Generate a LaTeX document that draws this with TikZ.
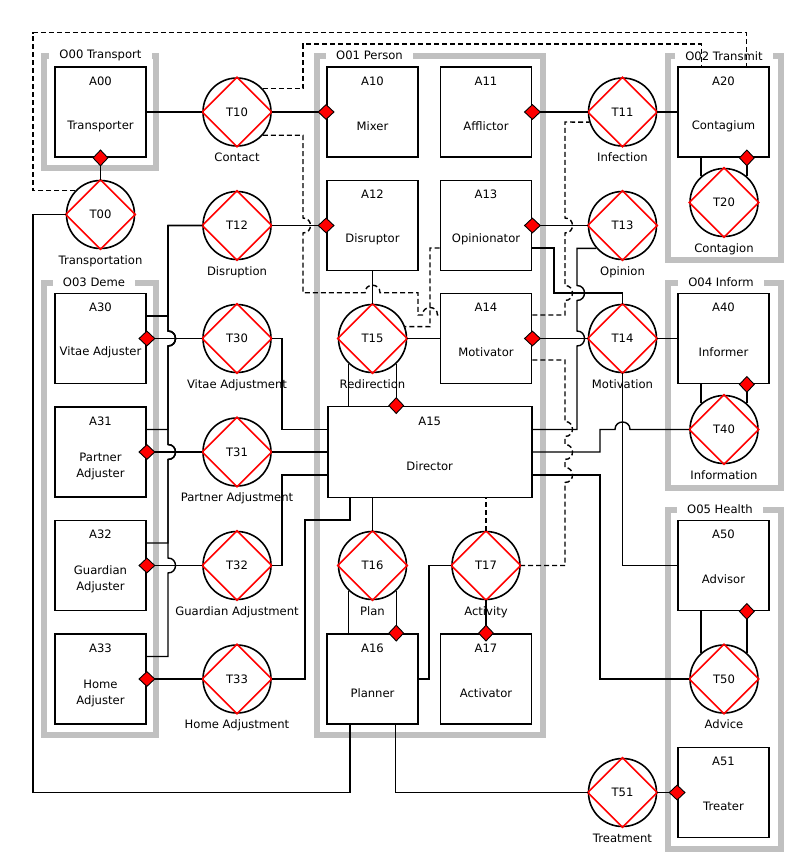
\documentclass[tikz,border=0pt]{standalone}
\usepackage{fontspec}
\setmainfont{DejaVu Sans}
\usepackage{tikz}
\usetikzlibrary{arrows.meta}
\definecolor{grigio}{HTML}{C0C0C0}

\begin{document}
\begin{tikzpicture}[x=1pt, y=-1pt,
        font=\fontsize{11.6}{16}\selectfont,
        actor/.style={draw, line width=1.8pt, minimum width=91pt, minimum height=90pt, inner sep=0pt},
        trans/.style={draw, circle, line width=1.6pt, minimum size=68pt, inner sep=0pt},
        org/.style={draw=grigio, line width=6pt},
        orgname/.style={fill=white, inner xsep=10pt, inner ysep=2pt},
        tname/.style={inner sep=0pt, text height=8.5pt, text depth=2.5pt, label distance=6pt},
        wire/.style={line width=1.4pt},
        flow/.style={wire, dash pattern=on 5pt off 3pt},
        own/.style={-{Diamond[length=17pt, width=16pt, fill=red, line width=0.9pt]}, shorten >=-8.5pt}
    ]
    \useasboundingbox (0,0) rectangle (794,862);

    % organizzazioni
    \draw[org] (44,55.7) rectangle (156,168);
    \draw[org] (317,55.7) rectangle (543,735);
    \draw[org] (668,55.7) rectangle (780.5,259.5);
    \draw[org] (44,282.5) rectangle (156,735);
    \draw[org] (668,282.5) rectangle (780.5,488);
    \draw[org] (668,509.5) rectangle (780.5,848.5);
    \node[orgname] (O00) at (100.5,55.7) {O00 Transport};
    \node[orgname] (O01) at (369.5,55.7) {O01 Person};
    \node[orgname] (O02) at (724,55.7) {O02 Transmit};
    \node[orgname] (O03) at (94,282.5) {O03 Deme};
    \node[orgname] (O04) at (721,282.5) {O04 Inform};
    \node[orgname] (O05) at (720,509.5) {O05 Health};

    % attori
    \foreach \n/\x/\y/\t in {A00/100.5/112/Transporter, A10/372.5/112/Mixer,
            A11/486/112/Afflictor, A20/723.5/112/Contagium,
            A12/372.5/225.5/Disruptor, A13/486/225.5/Opinionator,
            A14/486/338.5/Motivator, A30/100.5/338.5/Vitae Adjuster,
            A31/100.5/452/Partner\\Adjuster, A32/100.5/565.5/Guardian\\Adjuster,
            A33/100.5/679/Home\\Adjuster, A40/723.5/338.5/Informer,
            A50/723.5/565.5/Advisor, A16/372.5/679/Planner,
            A17/486/679/Activator, A51/723.5/792.5/Treater}
        \node[actor, label={[anchor=center, yshift=-15pt]90:\n},
            label={[anchor=center, yshift=-60pt, align=center]90:\t}] (\n) at (\x,\y) {};
    \node[actor, minimum width=204pt, minimum height=91pt,
        label={[anchor=center, yshift=-15.5pt]90:A15},
        label={[anchor=center, yshift=-60.5pt]90:Director}] (A15) at (429.7,452) {};

    % transazioni
    \foreach \n/\x/\y/\t in {T00/100.5/214.5/Transportation, T10/237/112/Contact,
            T11/622.5/112/Infection, T12/237/225.5/Disruption,
            T13/622.5/225.5/Opinion, T14/622.5/338.5/Motivation,
            T15/372.5/338.5/Redirection, T16/372.5/565.5/Plan,
            T17/486/565.5/Activity, T20/724/202.5/Contagion,
            T30/237/338.5/Vitae Adjustment, T31/237/452/Partner Adjustment,
            T32/237/565.5/Guardian Adjustment, T33/237/679/Home Adjustment,
            T40/724/429.5/Information, T50/724/679/Advice,
            T51/622.5/792.5/Treatment}
        \node[trans, label={[tname]below:\t}] (\n) at (\x,\y) {\n};
    \foreach \n in {T00,T10,T11,T12,T13,T14,T15,T16,T17,T20,T30,T31,T32,T33,T40,T50,T51}
        \draw[red, line width=1.6pt] (\n.north) -- (\n.east) -- (\n.south) -- (\n.west) -- cycle;

    % collegamenti
    \draw[wire] (A00) -- (T10);
    \draw[wire, own] (T10) -- (A10);
    \draw[wire, own] (T00) -- (A00);
    \draw[wire] (T00) -| (33,792.5) -| (350,0 |- A16.south);
    \draw[wire, own] (T12) -- (A12);
    \draw[wire] (A30.east |- 0,316) -| (168,225.5) -- (T12);
    \draw[wire] (A31.east |- 0,429.5) -- (168,429.5) -- (168,346)
        .. controls +(10,0) and +(10,0) .. (168,331) -- (168,225.5) -- (T12);
    \draw[wire] (A32.east |- 0,543) -- (168,543) -- (168,459.5)
        .. controls +(10,0) and +(10,0) .. (168,444.5) -- (168,346)
        .. controls +(10,0) and +(10,0) .. (168,331) -- (168,225.5) -- (T12);
    \draw[wire] (A33.east |- 0,656.5) -- (168,656.5) -- (168,573)
        .. controls +(10,0) and +(10,0) .. (168,558) -- (168,459.5)
        .. controls +(10,0) and +(10,0) .. (168,444.5) -- (168,346)
        .. controls +(10,0) and +(10,0) .. (168,331) -- (168,225.5) -- (T12);
    \draw[wire, own] (T30) -- (A30);
    \draw[wire, own] (T31) -- (A31);
    \draw[wire, own] (T32) -- (A32);
    \draw[wire, own] (T33) -- (A33);
    \draw[wire] (T30) -| (282,429.5) -- (A15.west |- 0,429.5);
    \draw[wire] (T31) -- (A15);
    \draw[wire] (T32) -| (282,475) -- (A15.west |- 0,475);
    \draw[wire] (T33) -| (305,520) -| (350,0 |- A15.south);

    \draw[wire] (T15) -- (A12);
    \draw[wire] (T15) -- (A14);
    \draw[wire] (T15.227) -- (T15.227 |- A15.north);
    \draw[wire, own] (T15.313) -- (T15.313 |- A15.north);
    \draw[wire] (T16) -- (T16 |- A15.south);
    \draw[wire] (T16.227) -- (T16.227 |- A16.north);
    \draw[wire, own] (T16.313) -- (T16.313 |- A16.north);
    \draw[wire, own] (T17) -- (A17);
    \draw[wire] (T17) -| (429,679) -- (A16);

    \draw[wire, own] (T11) -- (A11);
    \draw[wire] (T11) -- (A20);
    \draw[wire] (T20.131) -- (T20.131 |- A20.south);
    \draw[wire, own] (T20.49) -- (T20.49 |- A20.south);
    \draw[wire, own] (T13) -- (A13);
    \draw[wire] (A13.east |- 0,248) -| (554,293) -| (T14);
    \draw[wire] (T13.221) -| (577,285.5)
        .. controls +(10,0) and +(10,0) .. (577,300.5) -- (577,331)
        .. controls +(10,0) and +(10,0) .. (577,346) -- (577,429.5) -- (A15.east |- 0,429.5);
    \draw[wire, own] (T14) -- (A14);
    \draw[wire] (T14) -- (A40);
    \draw[wire] (T14) |- (A50);
    \draw[wire] (T40.131) -- (T40.131 |- A40.south);
    \draw[wire, own] (T40.49) -- (T40.49 |- A40.south);
    \draw[wire] (T40) -- (630,429.5) .. controls +(0,-10) and +(0,-10) .. (615,429.5)
        -- (600,429.5) |- (A15);
    \draw[wire] (T50.131) -- (T50.131 |- A50.south);
    \draw[wire, own] (T50.49) -- (T50.49 |- A50.south);
    \draw[wire] (T50) -| (600,475) -- (A15.east |- 0,475);
    \draw[wire, own] (T51) -- (A51);
    \draw[wire] (T51) -| (395.7,0 |- A16.south);

    % collegamenti tratteggiati
    \draw[flow] (T00.136) -| (33,32.7) -| ([xshift=23pt]A20.north);
    \draw[flow] (T10.42) -| (303,44) -| ([xshift=-22pt]A20.north);
    \draw[flow] (T10.-42) -| (303,218) .. controls +(10,0) and +(10,0) .. (303,233)
        -- (303,292.7) -- (365,292.7) .. controls +(0,-10) and +(0,-10) .. (380,292.7)
        -- (418,292.7) -- (418,315) -- (422.5,315)
        .. controls +(0,-10) and +(0,-10) .. (437.5,315) -- (A14.west |- 0,315);
    \draw[flow] (A13.west |- 0,248) -| (430,326.7) -- (T15.20);
    \draw[flow] (A14.east |- 0,315) -| (565,300.5)
        .. controls +(10,0) and +(10,0) .. (565,285.5) -- (565,233)
        .. controls +(10,0) and +(10,0) .. (565,218) -- (565,122) -- (T11.197);
    \draw[flow] (A14.east |- 0,360) -| (565,421.5)
        .. controls +(10,0) and +(10,0) .. (565,436.5) -- (565,444.5)
        .. controls +(10,0) and +(10,0) .. (565,459.5) -- (565,467.5)
        .. controls +(10,0) and +(10,0) .. (565,482.5) -- (565,565.5) -- (T17);
    \draw[flow] (T17) -- (T17 |- A15.south);
\end{tikzpicture}
\end{document}
